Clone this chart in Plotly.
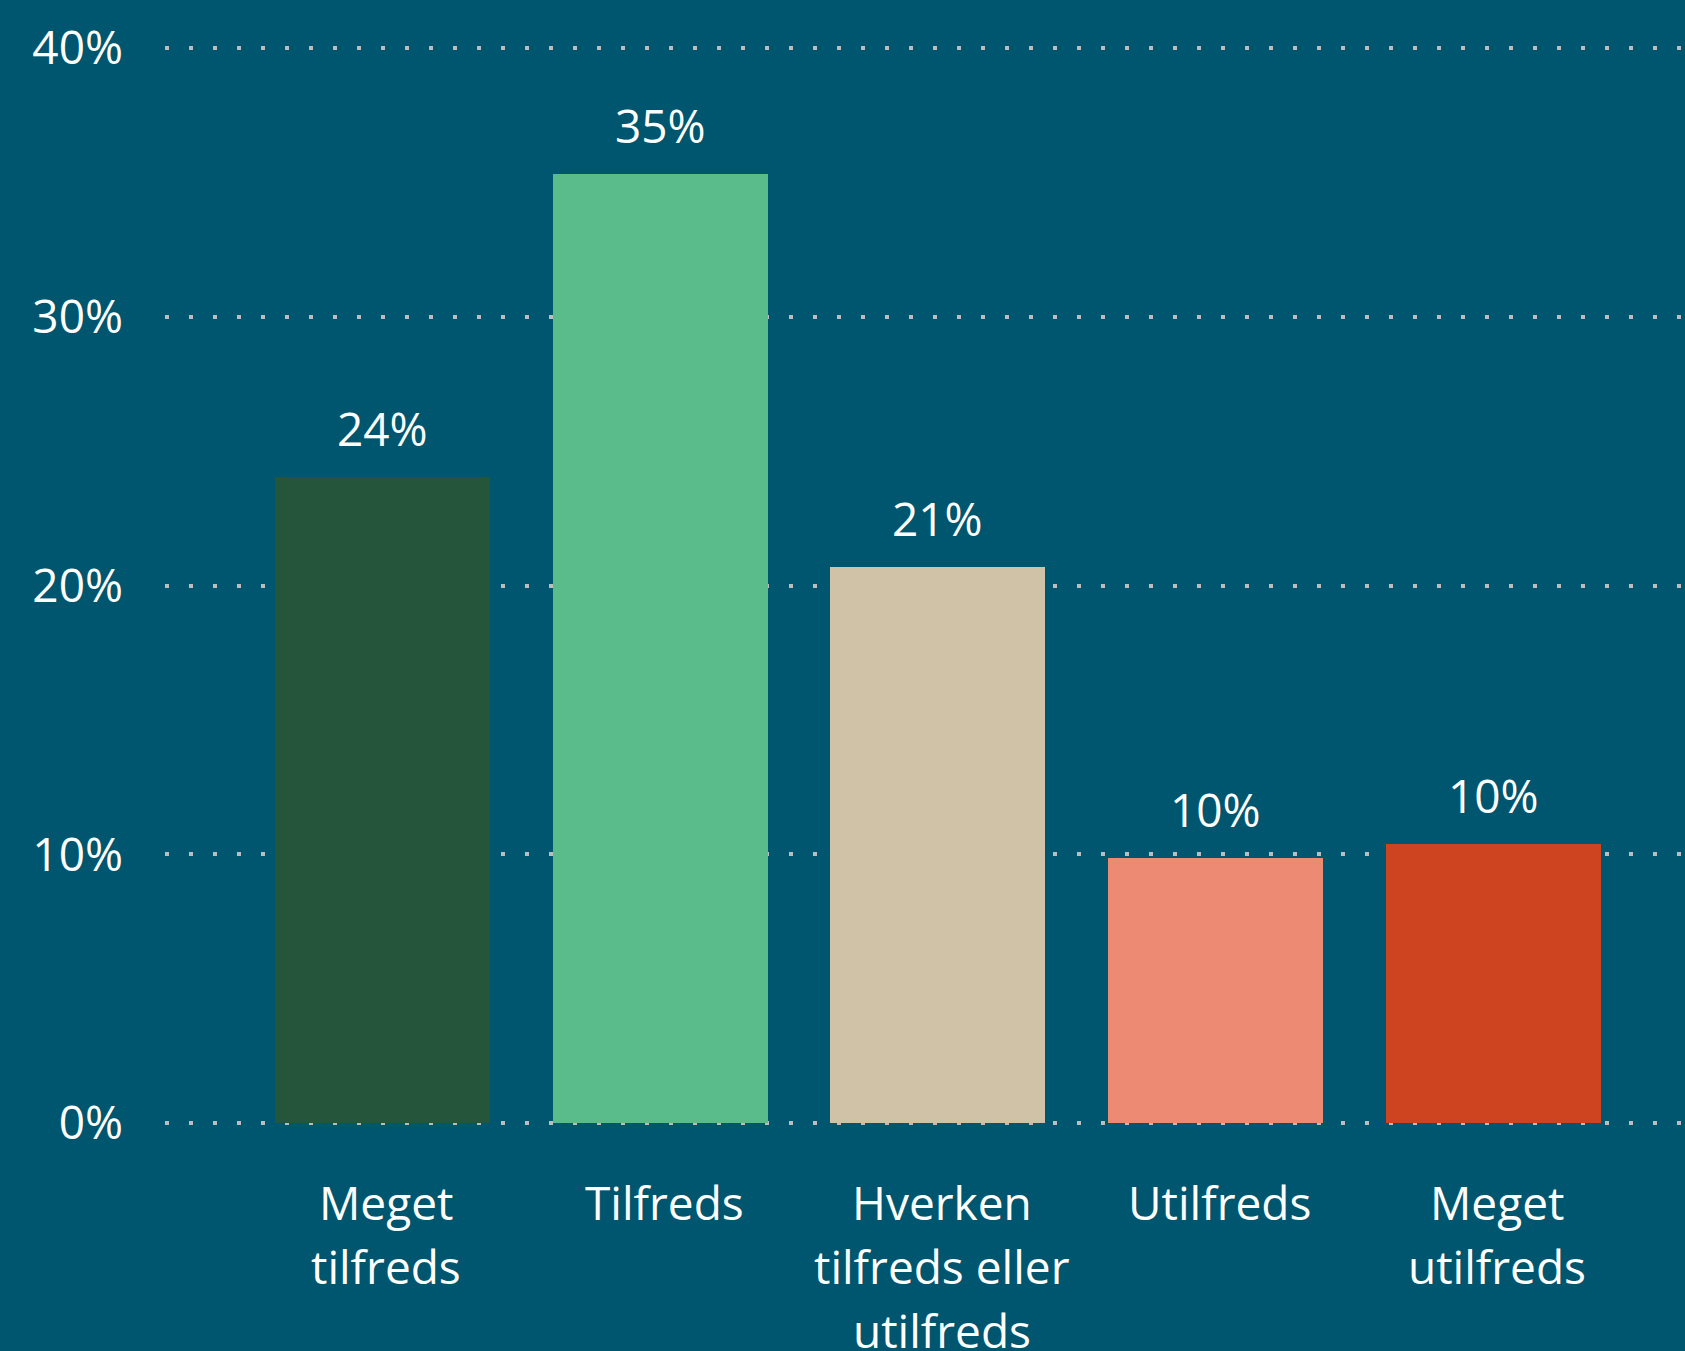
import plotly.graph_objects as go

categories = ["Meget tilfreds", "Tilfreds", "Hverken tilfreds eller utilfreds",
              "Utilfreds", "Meget utilfreds"]
category_lines = [["Meget", "tilfreds"], ["Tilfreds"], ["Hverken", "tilfreds eller", "utilfreds"],
                  ["Utilfreds"], ["Meget", "utilfreds"]]
values = [24.05, 35.3, 20.7, 9.88, 10.4]
value_labels = ["24%", "35%", "21%", "10%", "10%"]
bar_colors = ["#25553A", "#5BBC8B", "#D0C2A7", "#EC8A74", "#CE4320"]
y_ticks = [0, 10, 20, 30, 40]
y_tick_labels = ["0%", "10%", "20%", "30%", "40%"]

BG = "#00566E"
FONT = "Open Sans"
white = dict(family=FONT, size=46, color="white")

fig = go.Figure(go.Bar(x=categories, y=values, marker_color=bar_colors,
                       marker_line_width=0, width=0.774, hoverinfo="skip"))

for cat, val, lab in zip(categories, values, value_labels):
    fig.add_annotation(x=cat, y=val, text=lab, showarrow=False, yanchor="bottom",
                       yshift=16, font=white)

# category labels, one annotation per line to get the wider line spacing
for cat, lines in zip(categories, category_lines):
    for i, line in enumerate(lines):
        fig.add_annotation(x=cat, y=0, text=line, showarrow=False, yanchor="middle",
                           xshift=4, yshift=-79 - 64 * i, font=white)

fig.update_layout(
    width=1685, height=1351, paper_bgcolor=BG, plot_bgcolor=BG,
    margin=dict(l=165, r=0, t=45, b=225), showlegend=False,
    font=white, bargap=0,
)
fig.update_xaxes(range=[-0.783, 4.69], showgrid=False, zeroline=False, showline=False,
                 ticks="", showticklabels=False)
# small padding on the range so the 0% and 40% dotted lines are drawn too
fig.update_yaxes(range=[-0.1, 40.1], tickvals=y_ticks, ticktext=y_tick_labels,
                 showgrid=True, gridcolor="#BDBDBD", gridwidth=4, griddash="4px,20px",
                 zeroline=False, showline=False, ticks="", ticklabelstandoff=41,
                 tickfont=white)

fig.write_html("out.html", config={"displayModeBar": False},
               post_script="document.body.style.margin='0';"
                           "document.body.style.background='%s';" % BG)
